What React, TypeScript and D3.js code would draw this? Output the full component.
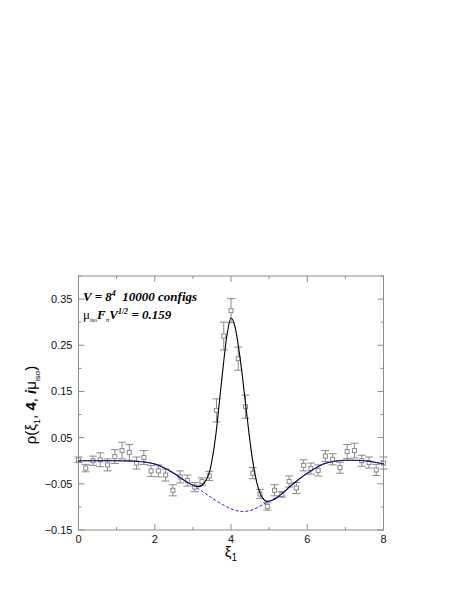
import * as d3 from "d3";
import React from "react";

// measured points (xi, rho, error)
const xiPoints = d3.range(43).map((i) => (i * 8) / 42);
const rhoValues = [
  0.002, -0.016, 0.0, 0.002, -0.009, 0.009, 0.022, 0.018, -0.005, 0.007,
  -0.022, -0.022, -0.031, -0.064, -0.035, -0.043, -0.057, -0.045, -0.033, 0.109,
  0.27, 0.325, 0.221, 0.117, -0.027, -0.072, -0.099, -0.064, -0.073, -0.045,
  -0.059, -0.01, -0.017, -0.021, 0.01, 0.003, -0.015, 0.02, 0.022, 0.0,
  -0.004, -0.02, -0.005,
];
const rhoErrors = [
  0.006, 0.008, 0.01, 0.015, 0.013, 0.015, 0.018, 0.017, 0.013, 0.015,
  0.012, 0.013, 0.013, 0.012, 0.013, 0.012, 0.01, 0.008, 0.01, 0.025,
  0.03, 0.026, 0.025, 0.025, 0.012, 0.01, 0.008, 0.012, 0.006, 0.012,
  0.012, 0.012, 0.012, 0.012, 0.012, 0.012, 0.012, 0.015, 0.016, 0.012,
  0.012, 0.012, 0.013,
];

// full prediction (black)
const fullX = [0, 0.5, 1, 1.5, 2, 2.5, 2.8, 3.0, 3.15, 3.3, 3.45, 3.6, 3.75, 3.9, 4.0, 4.1, 4.25, 4.4, 4.55, 4.7, 4.85, 4.95, 5.1, 5.3, 5.6, 6.0, 6.5, 7.0, 7.2, 7.5, 8.0];
const fullY = [0, 0, 0, -0.001, -0.007, -0.027, -0.044, -0.053, -0.056, -0.048, -0.02, 0.055, 0.17, 0.275, 0.309, 0.292, 0.215, 0.11, 0.01, -0.055, -0.083, -0.088, -0.085, -0.074, -0.052, -0.027, -0.005, 0.001, 0.001, 0.0, -0.007];

// background curve (blue dashed)
const baseX = [0, 0.5, 1, 1.5, 2, 2.5, 2.8, 3.0, 3.2, 3.4, 3.6, 3.8, 4.0, 4.3, 4.5, 4.7, 4.9, 5.1, 5.3, 5.6, 6.0, 6.5, 7.0, 7.2, 7.5, 8.0];
const baseY = [0, 0, 0, -0.001, -0.007, -0.027, -0.044, -0.053, -0.064, -0.075, -0.086, -0.096, -0.104, -0.11, -0.108, -0.101, -0.092, -0.083, -0.074, -0.052 - 0.001, -0.027, -0.005, 0.001, 0.001, 0.0, -0.007];

const xTicks = [0, 1, 2, 3, 4, 5, 6, 7, 8];
const xLabels = [0, 2, 4, 6, 8];
const yTicks = d3.range(12).map((i) => -0.15 + i * 0.05);
const yLabels = [-0.15, -0.05, 0.05, 0.15, 0.25, 0.35];

const W = 463;
const H = 599;
const left = 78.5;
const right = 383.5;
const top = 276;
const bottom = 530;

export default function App() {
  const x = d3.scaleLinear().domain([0, 8]).range([left, right]);
  const y = d3.scaleLinear().domain([-0.15, 0.4]).range([bottom, top]);
  const line = d3
    .line<[number, number]>()
    .x((d) => x(d[0]))
    .y((d) => y(d[1]))
    .curve(d3.curveMonotoneX);
  const frame = "#8c8c8c";
  const ptColor = "#8a8a8a";
  const tickFont = "Liberation Sans, Arial, sans-serif";
  const serif = "Liberation Serif, Times New Roman, serif";

  return (
    <svg width={W} height={H} style={{ position: "absolute", left: 0, top: 0, background: "#fff" }}>
      <rect x={left} y={top} width={right - left} height={bottom - top} fill="none" stroke={frame} strokeWidth={1} />
      {xTicks.map((t) => {
        const len = t % 2 === 0 ? 6 : 3;
        return (
          <g key={"xt" + t} stroke={frame}>
            <line x1={x(t)} x2={x(t)} y1={bottom} y2={bottom - len} />
            <line x1={x(t)} x2={x(t)} y1={top} y2={top + len} />
          </g>
        );
      })}
      {yTicks.map((t, i) => {
        const len = i % 2 === 0 ? 6 : 3;
        return (
          <g key={"yt" + i} stroke={frame}>
            <line x1={left} x2={left + len} y1={y(t)} y2={y(t)} />
            <line x1={right} x2={right - len} y1={y(t)} y2={y(t)} />
          </g>
        );
      })}
      {xLabels.map((t) => (
        <text key={"xl" + t} x={x(t)} y={bottom + 13} textAnchor="middle" fontFamily={tickFont} fontSize={11} fill="#111">
          {t}
        </text>
      ))}
      {yLabels.map((t) => (
        <text key={"yl" + t} x={left - 6} y={y(t) + 4} textAnchor="end" fontFamily={tickFont} fontSize={11} fill="#111">
          {t < 0 ? "\u2212" + Math.abs(t).toFixed(2) : t.toFixed(2)}
        </text>
      ))}

      {/* data points with error bars */}
      <g stroke={ptColor} fill="none" strokeWidth={1}>
        {xiPoints.map((xi, i) => {
          const cx = x(xi);
          const cy = y(rhoValues[i]);
          const y1 = y(rhoValues[i] + rhoErrors[i]);
          const y2 = y(rhoValues[i] - rhoErrors[i]);
          return (
            <g key={"p" + i}>
              <line x1={cx} x2={cx} y1={y1} y2={cy - 2} />
              <line x1={cx} x2={cx} y1={cy + 2} y2={y2} />
              <line x1={cx - 4} x2={cx + 4} y1={y1} y2={y1} />
              <line x1={cx - 4} x2={cx + 4} y1={y2} y2={y2} />
              <rect x={cx - 2} y={cy - 2} width={4} height={4} />
            </g>
          );
        })}
      </g>

      <path d={line(fullX.map((v, i) => [v, fullY[i]]) as [number, number][]) || ""} fill="none" stroke="#000" strokeWidth={1.1} />
      <path d={line(baseX.map((v, i) => [v, baseY[i]]) as [number, number][]) || ""} fill="none" stroke="#1a1aff" strokeWidth={1} strokeDasharray="3,2" />

      {/* annotation */}
      <text x={83} y={301} fontFamily={serif} fontStyle="italic" fontWeight="bold" fontSize={13} fill="#000">
        V = 8<tspan dy={-5} fontSize={8}>4</tspan>
        <tspan dy={5}>{"\u00a0\u00a010000 configs"}</tspan>
      </text>
      <text x={83} y={319} fontFamily={serif} fontStyle="italic" fontWeight="bold" fontSize={13} fill="#000">
        <tspan fontStyle="normal" fontWeight="normal">μ</tspan>
        <tspan dy={3} fontSize={6} fontStyle="normal" fontWeight="normal">iso</tspan>
        <tspan dy={-3}>F</tspan>
        <tspan dy={3} fontSize={7} fontStyle="normal" fontWeight="normal">π</tspan>
        <tspan dy={-3}>V</tspan>
        <tspan dy={-5} fontSize={8}>1/2</tspan>
        <tspan dy={5}>{" = 0.159"}</tspan>
      </text>

      {/* axis titles */}
      <text x={x(4)} y={557} textAnchor="middle" fontFamily={tickFont} fontSize={15} fill="#000">
        ξ<tspan dy={4} fontSize={10}>1</tspan>
      </text>
      <text transform={`translate(36, ${(top + bottom) / 2 + 2}) rotate(-90)`} textAnchor="middle" fontFamily={tickFont} fontSize={15} fill="#000">
        ρ(ξ<tspan dy={4} fontSize={9}>1</tspan>
        <tspan dy={-4}>, </tspan>
        <tspan fontWeight="bold">4</tspan>
        <tspan>, </tspan>
        <tspan fontStyle="italic" fontWeight="bold">i</tspan>
        <tspan>μ</tspan>
        <tspan dy={4} fontSize={8}>iso</tspan>
        <tspan dy={-4}>)</tspan>
      </text>
    </svg>
  );
}
